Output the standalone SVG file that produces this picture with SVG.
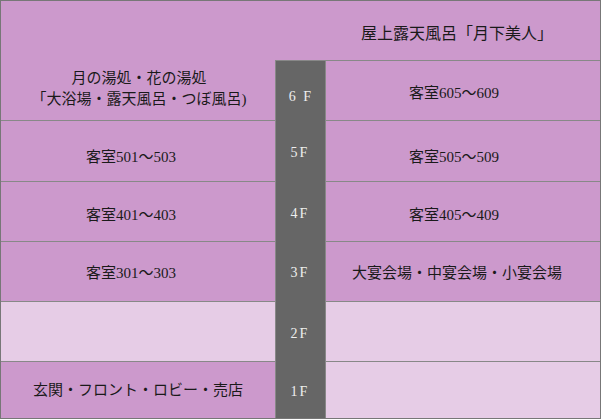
<svg xmlns="http://www.w3.org/2000/svg" width="601" height="419" viewBox="0 0 601 419">
<style>
.p{fill:#CC99CC}
.l{fill:#E6CCE6}
.g{stroke:#888;stroke-width:1;fill:none}
.t{font-family:"Liberation Serif","Noto Sans CJK JP",serif;font-size:15px;fill:#1a1a1a;text-anchor:middle}
.f{font-family:"Liberation Serif",serif;font-size:14px;fill:#eeeeee;text-anchor:middle;letter-spacing:2px}
</style>
<g id="rooftop">
<rect class="p" x="0" y="0" width="601" height="61"/>
<text class="t" x="457" y="39" style="font-size:16px">屋上露天風呂「月下美人」</text>
</g>
<g id="left6">
<rect class="p" x="0" y="0" width="276" height="121"/>
<text class="t" x="139" y="83">月の湯処・花の湯処</text>
<text class="t" x="139" y="104">「大浴場・露天風呂・つぼ風呂)</text>
</g>
<g id="right6">
<rect class="p" x="325" y="60" width="276" height="61"/>
<text class="t" x="454" y="98">客室605～609</text>
</g>
<g id="left5">
<rect class="p" x="0" y="120" width="276" height="62"/>
<text class="t" x="131" y="161.5">客室501～503</text>
</g>
<g id="right5">
<rect class="p" x="325" y="120" width="276" height="62"/>
<text class="t" x="454" y="161.5">客室505～509</text>
</g>
<g id="left4">
<rect class="p" x="0" y="181" width="276" height="61"/>
<text class="t" x="131" y="220">客室401～403</text>
</g>
<g id="right4">
<rect class="p" x="325" y="181" width="276" height="61"/>
<text class="t" x="454" y="220">客室405～409</text>
</g>
<g id="left3">
<rect class="p" x="0" y="241" width="276" height="61"/>
<text class="t" x="131" y="278">客室301～303</text>
</g>
<g id="right3">
<rect class="p" x="325" y="241" width="276" height="61"/>
<text class="t" x="457" y="278">大宴会場・中宴会場・小宴会場</text>
</g>
<g id="left2">
<rect class="l" x="0" y="301" width="276" height="61"/>
</g>
<g id="right2">
<rect class="l" x="325" y="301" width="276" height="61"/>
</g>
<g id="left1">
<rect class="p" x="0" y="361" width="276" height="58"/>
<text class="t" x="138" y="395">玄関・フロント・ロビー・売店</text>
</g>
<g id="right1">
<rect class="l" x="325" y="361" width="276" height="58"/>
</g>
<g id="grid">
<path class="g" d="M0 120.5H275.5M0 181.5H275.5M0 241.5H275.5M0 301.5H275.5M0 361.5H275.5M325.5 60.5H601M325.5 120.5H601M325.5 181.5H601M325.5 241.5H601M325.5 301.5H601M325.5 361.5H601"/>
</g>
<g id="floors">
<rect x="275.5" y="60.5" width="50" height="358" fill="#666666" stroke="#888"/>
<text class="f" x="301" y="100.5">6 F</text>
<text class="f" x="300" y="157">5F</text>
<text class="f" x="300" y="218">4F</text>
<text class="f" x="300" y="277">3F</text>
<text class="f" x="300" y="338">2F</text>
<text class="f" x="300" y="396">1F</text>
</g>
<rect x="0.5" y="0.5" width="600" height="418" fill="none" stroke="#777"/>
<g id="connectors"/>
</svg>
